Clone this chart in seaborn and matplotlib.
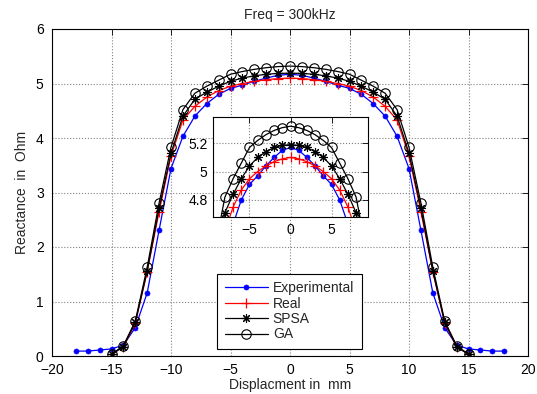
import numpy as np
import pandas as pd
import matplotlib
matplotlib.use("Agg")
import matplotlib.pyplot as plt
import seaborn as sns

# Reactance profiles (Ohm) versus probe displacement (mm), f = 300 kHz
x_exp = [-18, -17, -16, -15, -14, -13, -12, -11, -10, -9, -8, -7, -6, -5, -4, -3, -2, -1,
         0, 1, 2, 3, 4, 5, 6, 7, 8, 9, 10, 11, 12, 13, 14, 15, 16, 17, 18]
y_exp = [0.09, 0.09, 0.11, 0.13, 0.20, 0.52, 1.16, 2.31, 3.44, 4.03, 4.40, 4.63, 4.80, 4.91,
         4.97, 5.04, 5.10, 5.15, 5.17, 5.15, 5.10, 5.04, 4.97, 4.91, 4.80, 4.63, 4.40, 4.03,
         3.44, 2.31, 1.16, 0.52, 0.20, 0.13, 0.11, 0.09, 0.09]

x_model = [-15, -14, -13, -12, -11, -10, -9, -8, -7, -6, -5, -4, -3, -2, -1,
           0, 1, 2, 3, 4, 5, 6, 7, 8, 9, 10, 11, 12, 13, 14, 15]
y_real = [0.03, 0.17, 0.60, 1.55, 2.65, 3.67, 4.33, 4.58, 4.75, 4.87, 4.95, 5.00, 5.04, 5.07,
          5.09, 5.10, 5.09, 5.07, 5.04, 5.00, 4.95, 4.87, 4.75, 4.58, 4.33, 3.67, 2.65, 1.55,
          0.60, 0.17, 0.03]
y_spsa = [0.03, 0.17, 0.62, 1.56, 2.71, 3.72, 4.40, 4.71, 4.84, 4.95, 5.04, 5.10, 5.14, 5.17,
          5.185, 5.19, 5.185, 5.17, 5.14, 5.10, 5.04, 4.95, 4.84, 4.71, 4.40, 3.72, 2.71, 1.56,
          0.62, 0.17, 0.03]
y_ga = [0.03, 0.19, 0.64, 1.63, 2.81, 3.83, 4.52, 4.82, 4.95, 5.06, 5.17, 5.22, 5.26, 5.29,
        5.31, 5.32, 5.31, 5.29, 5.26, 5.22, 5.17, 5.06, 4.95, 4.82, 4.52, 3.83, 2.81, 1.63,
        0.64, 0.19, 0.03]

series_names = ["Experimental", "Real", "SPSA", "GA"]

df = pd.concat([
    pd.DataFrame({"x": x_exp, "y": y_exp, "series": "Experimental"}),
    pd.DataFrame({"x": x_model, "y": y_real, "series": "Real"}),
    pd.DataFrame({"x": x_model, "y": y_spsa, "series": "SPSA"}),
    pd.DataFrame({"x": x_model, "y": y_ga, "series": "GA"}),
], ignore_index=True)

# 8-armed asterisk, like a "+" laid over an "x"
asterisk = (8, 2, 0)

styles = {
    "Experimental": dict(color="#0000ff", marker="o", markersize=3.6, markerfacecolor="#0000ff",
                         markeredgecolor="#0000ff", markeredgewidth=0.5),
    "Real": dict(color="#ff0000", marker="+", markersize=6.5, markerfacecolor="none",
                 markeredgecolor="#ff0000", markeredgewidth=0.9),
    "SPSA": dict(color="black", marker=asterisk, markersize=6.5, markerfacecolor="none",
                 markeredgecolor="black", markeredgewidth=0.8),
    "GA": dict(color="black", marker="o", markersize=6.8, markerfacecolor="none",
               markeredgecolor="black", markeredgewidth=0.8),
}

sns.set_style("white")
plt.rcParams["font.family"] = ["Liberation Sans", "DejaVu Sans"]
plt.rcParams["font.size"] = 10

fig = plt.figure(figsize=(5.37, 3.94), dpi=100)
ax = fig.add_axes([52 / 537, 1 - 356 / 394, 476 / 537, 327 / 394])
axin = fig.add_axes([213 / 537, 1 - 217 / 394, 155 / 537, 100 / 394])


def draw(target):
    for name in series_names:
        sub = df[df["series"] == name]
        sns.lineplot(data=sub, x="x", y="y", ax=target, label=name, linewidth=0.9,
                     sort=False, estimator=None, **styles[name])


def style_axes(target):
    target.grid(True, linestyle=":", color="#808080", linewidth=0.8)
    target.set_axisbelow(True)
    for sp in target.spines.values():
        sp.set_color("black")
        sp.set_linewidth(0.8)
        sp.set_visible(True)
    target.tick_params(direction="in", length=4, width=0.6, top=True, right=True,
                       labelsize=10, colors="black", pad=4)
    target.set_xlabel("")
    target.set_ylabel("")


draw(ax)
style_axes(ax)
ax.tick_params(axis="x", pad=5)
ax.tick_params(axis="y", pad=6)
ax.set_xlim(-20, 20)
ax.set_ylim(0, 6)
ax.set_xticks(np.arange(-20, 21, 5))
ax.set_yticks(np.arange(0, 7, 1))
ax.set_title("Freq = 300kHz", fontsize=10, pad=7)
ax.set_xlabel("Displacment in  mm", fontsize=10, labelpad=1)
ax.set_ylabel("Reactance  in  Ohm", fontsize=10, labelpad=5)

handles, labels = ax.get_legend_handles_labels()
ax.legend(handles, labels, loc="lower left", bbox_to_anchor=(0.3466, 0.0214),
          fancybox=False, framealpha=1, edgecolor="black", fontsize=10,
          handlelength=3.15, handletextpad=0.32, borderpad=0.55, labelspacing=0.1,
          borderaxespad=0)
ax.get_legend().get_frame().set_linewidth(0.8)

draw(axin)
style_axes(axin)
axin.set_facecolor("white")
axin.set_xlim(-9.45, 9.45)
axin.set_ylim(4.68, 5.385)
axin.set_xticks([-5, 0, 5])
axin.set_yticks([4.8, 5.0, 5.2])
axin.set_yticklabels(["4.8", "5", "5.2"])
axin.get_legend().remove()
axin.set_xlabel("")
axin.set_ylabel("")

fig.savefig("out.png", dpi=100)
